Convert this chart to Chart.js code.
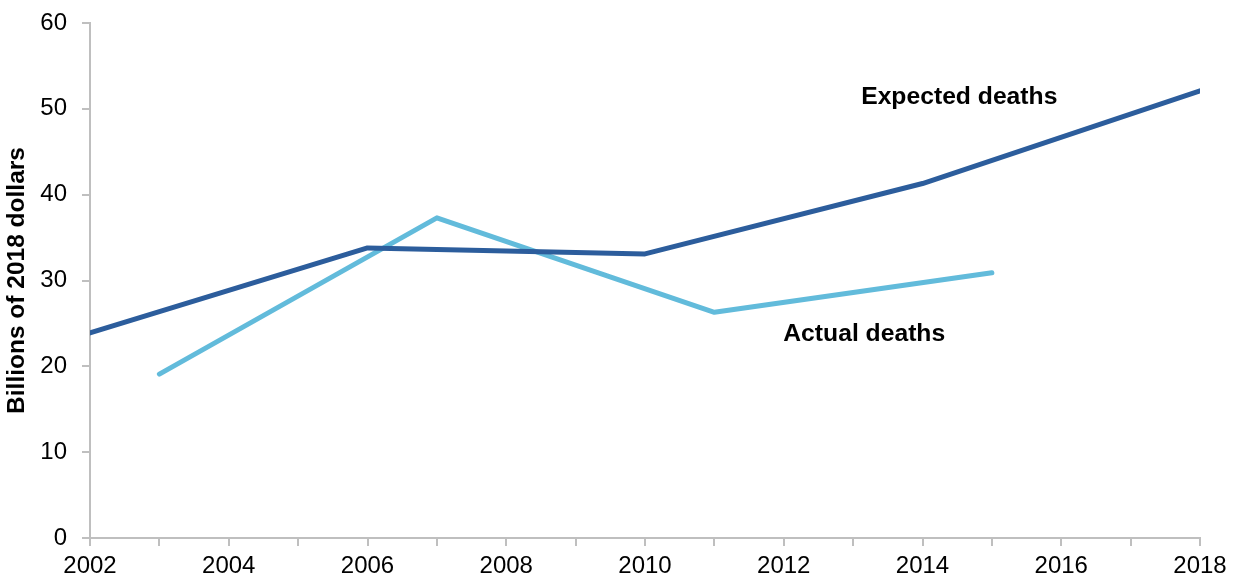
<!DOCTYPE html>
<html>
<head>
    <title>Expected vs actual deaths</title>
    <script src="https://cdn.jsdelivr.net/npm/chart.js"></script>
    <style>
        body { margin: 0; padding: 0; background: #fff; }
        #wrap { width: 1237px; height: 577px; }
    </style>
</head>
<body>
<div id="wrap"><canvas id="lineChart"></canvas></div>
<script>
    // data
    var expectedYears = [2002, 2006, 2010, 2014, 2018];
    var expectedValues = [23.9, 33.8, 33.1, 41.3, 52.1];
    var actualYears = [2003, 2007, 2011, 2015];
    var actualValues = [19.1, 37.3, 26.3, 30.9];
    var yTicks = [0, 10, 20, 30, 40, 50, 60];
    var seriesLabels = ['Expected deaths', 'Actual deaths'];
    var labelPos = [[2014.53, 51.4], [2013.16, 23.8]];

    function toPoints(xs, ys) {
        return xs.map(function (x, i) { return { x: x, y: ys[i] }; });
    }

    var axisGrey = '#bfbfbf';
    var font = 'Liberation Sans, Arial, sans-serif';

    // text labels next to the lines
    var lineLabels = {
        id: 'lineLabels',
        afterDatasetsDraw: function (chart) {
            var ctx = chart.ctx;
            ctx.save();
            ctx.font = 'bold 24.7px ' + font;
            ctx.fillStyle = '#000';
            ctx.textAlign = 'center';
            ctx.textBaseline = 'middle';
            seriesLabels.forEach(function (t, i) {
                ctx.fillText(t, chart.scales.x.getPixelForValue(labelPos[i][0]),
                    chart.scales.y.getPixelForValue(labelPos[i][1]));
            });
            ctx.restore();
        }
    };

    var ctx = document.getElementById('lineChart').getContext('2d');
    new Chart(ctx, {
        type: 'line',
        data: {
            datasets: [{
                label: seriesLabels[0],
                data: toPoints(expectedYears, expectedValues),
                borderColor: '#2c5d9c',
                borderWidth: 5,
                pointRadius: 0,
                borderCapStyle: 'round',
                borderJoinStyle: 'round'
            }, {
                label: seriesLabels[1],
                data: toPoints(actualYears, actualValues),
                borderColor: '#62bbdb',
                borderWidth: 5,
                pointRadius: 0,
                borderCapStyle: 'round',
                borderJoinStyle: 'round'
            }]
        },
        options: {
            responsive: true,
            maintainAspectRatio: false,
            animation: false,
            layout: { padding: { top: 23, right: 37, left: 0, bottom: 0 } },
            plugins: { legend: { display: false }, tooltip: { enabled: false } },
            scales: {
                x: {
                    type: 'linear',
                    min: 2002,
                    max: 2018,
                    afterFit: function (s) { s.height = 39; s.paddingLeft = 0; s.paddingRight = 0; },
                    border: { color: axisGrey, width: 2 },
                    grid: { drawOnChartArea: false, color: axisGrey, lineWidth: 2, tickLength: 8 },
                    ticks: {
                        stepSize: 1,
                        padding: 6,
                        maxRotation: 0,
                        autoSkip: false,
                        color: '#000',
                        font: { family: font, size: 24 },
                        callback: function (v) { return v % 2 === 0 ? String(v) : ''; }
                    }
                },
                y: {
                    min: 0,
                    max: 60,
                    afterFit: function (s) { s.width = 90; s.paddingTop = 0; s.paddingBottom = 0; },
                    afterBuildTicks: function (s) { s.ticks = yTicks.map(function (v) { return { value: v }; }); },
                    border: { color: axisGrey, width: 2 },
                    grid: { drawOnChartArea: false, color: axisGrey, lineWidth: 2, tickLength: 8 },
                    ticks: {
                        padding: 15,
                        color: '#000',
                        font: { family: font, size: 24 }
                    },
                    title: {
                        display: true,
                        text: 'Billions of 2018 dollars',
                        color: '#000',
                        font: { family: font, size: 24.5, weight: 'bold' },
                        padding: { top: 3, bottom: 0 }
                    }
                }
            }
        },
        plugins: [lineLabels]
    });
</script>
</body>
</html>
